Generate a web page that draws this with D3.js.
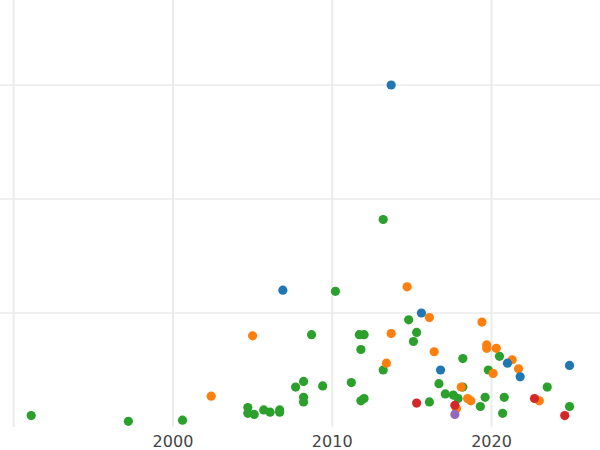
<!DOCTYPE html>
<html><head><meta charset="utf-8">
<script src="https://cdn.jsdelivr.net/npm/d3@7"></script>
<style>body{margin:0;background:#fff}</style>
</head><body><div id="chart"></div>
<script>
var green = [[1991.1,.10],[1997.2,.05],[2000.6,.06],[2004.7,.17],[2004.7,.12],[2005.1,.11],[2005.7,.15],[2006.1,.13],[2006.7,.15],[2006.7,.13],[2007.7,.35],[2008.2,.40],[2008.2,.26],[2008.2,.22],[2008.7,.81],[2009.4,.36],[2010.2,1.19],[2011.2,.39],[2011.7,.81],[2011.8,.68],[2011.8,.23],[2012.0,.81],[2012.0,.25],[2013.2,1.82],[2013.2,.50],[2014.8,.94],[2015.1,.75],[2015.3,.83],[2016.1,.22],[2016.7,.38],[2017.1,.29],[2017.6,.28],[2017.9,.25],[2018.2,.60],[2018.2,.35],[2019.3,.18],[2019.6,.26],[2019.8,.50],[2020.5,.62],[2020.7,.12],[2020.8,.26],[2023.5,.35],[2024.9,.18]];
var orange = [[2002.4,.27],[2005.0,.80],[2013.4,.56],[2013.7,.82],[2014.7,1.23],[2016.1,.96],[2016.4,.66],[2017.8,.16],[2018.1,.35],[2018.5,.25],[2018.7,.23],[2019.4,.92],[2019.7,.72],[2019.7,.69],[2020.1,.47],[2020.3,.69],[2021.3,.59],[2021.7,.51],[2023.0,.23]];
var blue = [[2013.7,3.0],[2006.9,1.20],[2015.6,1.0],[2016.8,.50],[2021.0,.56],[2021.8,.44],[2024.9,.54]];
var red = [[2015.3,.21],[2017.7,.19],[2022.7,.25],[2024.6,.10]];
var purple = [[2017.7,.11]];
var series = [[green,"#2ca02c"],[orange,"#ff7f0e"],[blue,"#1f77b4"],[red,"#d62728"],[purple,"#9467bd"]];
var xTicks = [1990, 2000, 2010, 2020];
var yTicks = [1, 2, 3];

var w = 600, h = 450, bottom = 427;
var svg = d3.select("#chart").append("svg").attr("width", w).attr("height", h);
var x = d3.scaleLinear().domain([1990, 2020]).range([13.7, 491.5]);
var y = d3.scaleLinear().domain([0, 3]).range([bottom, 85]);

svg.selectAll(".vg").data(xTicks).enter().append("line").attr("x1", x).attr("x2", x)
    .attr("y1", 0).attr("y2", bottom).style("stroke", "#ebebeb").style("stroke-width", 2);
svg.selectAll(".hg").data(yTicks).enter().append("line").attr("x1", 0).attr("x2", w)
    .attr("y1", y).attr("y2", y).style("stroke", "#ebebeb").style("stroke-width", 1.5);

svg.selectAll(".xl").data(xTicks.filter(function (d) { return d > 1990; })).enter().append("text")
    .attr("x", x).attr("y", 447).attr("text-anchor", "middle")
    .style("font-family", "DejaVu Sans").style("font-size", "16px").style("fill", "#444")
    .text(function (d) { return d; });

series.forEach(function (s) {
    svg.append("g").selectAll("circle").data(s[0]).enter().append("circle")
        .attr("cx", function (d) { return x(d[0]); })
        .attr("cy", function (d) { return y(d[1]); })
        .attr("r", 4.6).style("fill", s[1]);
});
</script></body></html>
